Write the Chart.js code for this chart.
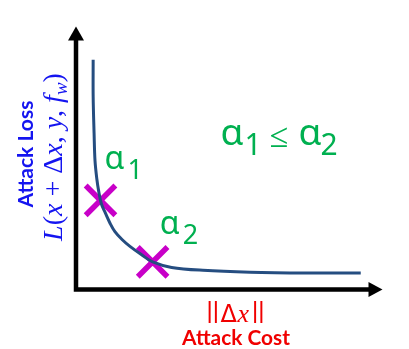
<!DOCTYPE html>
<html>
<head>
<meta charset="utf-8">
<script src="https://cdn.jsdelivr.net/npm/chart.js@4/dist/chart.umd.min.js"></script>
<style>
  html, body { margin: 0; padding: 0; background: #ffffff; }
  #wrap { width: 409px; height: 349px; }
</style>
</head>
<body>
<div id="wrap"><canvas id="c" width="409" height="349"></canvas></div>
<script>
// Trade-off curve: attack cost (x) vs attack loss (y)
const curveCost = [0.56, 0.56, 0.59, 0.62, 0.68, 0.74, 0.83, 0.96, 1.11, 1.27, 1.51, 1.76, 2.13, 2.50, 3.12, 4.14, 5.68, 7.53, 9.29];
const curveLoss = [8.74, 7.34, 5.94, 4.90, 4.20, 3.74, 3.25, 2.90, 2.52, 2.20, 1.89, 1.64, 1.33, 1.05, 0.84, 0.73, 0.66, 0.63, 0.63];

// Operating points for the two weights
const markerCost = [0.80, 2.50];
const markerLoss = [3.39, 1.05];
const markerNames = ['α', 'α'];
const markerSubs = ['1', '2'];

const GREEN = '#00b050';
const BLUE = '#1414f0';
const RED = '#f00000';
const SANS = '"Noto Sans"';

// draws a letter with a subscript; subX is the subscript's offset from the letter
function drawSub(ctx, x, y, main, sub, mainPx, subPx, subX, subDrop) {
  ctx.textAlign = 'left';
  ctx.textBaseline = 'alphabetic';
  ctx.font = mainPx + 'px ' + SANS;
  ctx.fillText(main, x, y);
  ctx.font = subPx + 'px ' + SANS;
  ctx.fillText(sub, x + subX, y + subDrop);
}

// bold title sized to a given width
function fitBold(ctx, text, width) {
  ctx.font = 'bold 20px Lato';
  const size = 20 * width / ctx.measureText(text).width;
  ctx.font = 'bold ' + size.toFixed(2) + 'px Lato';
}

const axesPlugin = {
  id: 'arrowAxes',
  beforeDatasetsDraw(chart) {
    const { ctx, chartArea: a } = chart;
    ctx.save();
    ctx.strokeStyle = '#000';
    ctx.fillStyle = '#000';
    ctx.lineWidth = 4.5;
    ctx.lineCap = 'butt';
    ctx.beginPath();
    ctx.moveTo(a.left, a.bottom + 2.2);
    ctx.lineTo(a.left, a.top + 12);
    ctx.moveTo(a.left - 2.2, a.bottom);
    ctx.lineTo(a.right - 12, a.bottom);
    ctx.stroke();
    // arrow heads
    ctx.beginPath();
    ctx.moveTo(a.left, a.top);
    ctx.lineTo(a.left - 8, a.top + 14);
    ctx.lineTo(a.left + 8, a.top + 14);
    ctx.closePath();
    ctx.fill();
    ctx.beginPath();
    ctx.moveTo(a.right, a.bottom);
    ctx.lineTo(a.right - 14, a.bottom - 7.5);
    ctx.lineTo(a.right - 14, a.bottom + 7.5);
    ctx.closePath();
    ctx.fill();
    ctx.restore();
  }
};

const labelPlugin = {
  id: 'labels',
  afterDatasetsDraw(chart) {
    const { ctx } = chart;
    ctx.save();
    ctx.fillStyle = GREEN;
    // alpha labels next to markers
    const meta = chart.getDatasetMeta(1);
    const offs = [[4, -31], [7, -28]];
    meta.data.forEach((pt, i) => {
      drawSub(ctx, pt.x + offs[i][0], pt.y + offs[i][1], markerNames[i], markerSubs[i], 32, 27, 23, 10);
    });

    // relation between weights
    drawSub(ctx, 220.5, 145, 'α', '1', 37, 30, 24, 10);
    ctx.font = '34px ' + SANS;
    ctx.textAlign = 'center';
    ctx.fillText('≤', 279, 147);
    drawSub(ctx, 298.5, 145, 'α', '2', 37, 30, 22, 10);

    // x-axis title
    ctx.fillStyle = RED;
    ctx.textAlign = 'left';
    ctx.font = '24px "Liberation Sans"';
    ctx.fillText('||', 206.5, 318);
    ctx.fillText('||', 252, 318);
    ctx.font = '24px "DejaVu Sans"';
    ctx.fillText('Δ', 220.5, 322);
    ctx.font = 'italic 26px "Liberation Serif"';
    ctx.fillText('x', 237.5, 322);
    ctx.textAlign = 'center';
    fitBold(ctx, 'Attack Cost', 108);
    ctx.fillText('Attack Cost', 236, 345);

    // y-axis title (rotated)
    ctx.translate(33, 154);
    ctx.rotate(-Math.PI / 2);
    ctx.fillStyle = BLUE;
    fitBold(ctx, 'Attack Loss', 107);
    ctx.textAlign = 'center';
    ctx.fillText('Attack Loss', 0, 0);
    ctx.restore();

    ctx.save();
    ctx.translate(62, 157);
    ctx.rotate(-Math.PI / 2);
    ctx.fillStyle = BLUE;
    const it = 'italic 28px "Liberation Serif"', up = '28px "Liberation Serif"';
    const parts = [
      [it, 'L', 0], [up, '(', 0], [it, 'x', 0], [up, ' + Δ', 0], [it, 'x', 0],
      [up, ', ', 0], [it, 'y', 0], [up, ', ', 0], [it, 'f', 0],
      ['italic 19px "Liberation Serif"', 'w', 5], [up, ')', 0]
    ];
    let total = 0;
    parts.forEach(p => { ctx.font = p[0]; total += ctx.measureText(p[1]).width; });
    let px = -total / 2;
    ctx.textAlign = 'left';
    parts.forEach(p => {
      ctx.font = p[0];
      ctx.fillText(p[1], px, p[2]);
      px += ctx.measureText(p[1]).width;
    });
    ctx.restore();
  }
};

new Chart(document.getElementById('c'), {
  type: 'scatter',
  data: {
    datasets: [
      {
        data: curveCost.map((c, i) => ({ x: c, y: curveLoss[i] })),
        showLine: true,
        borderColor: '#254d80',
        borderWidth: 3,
        pointRadius: 0,
        tension: 0.35,
        clip: false
      },
      {
        data: markerCost.map((c, i) => ({ x: c, y: markerLoss[i] })),
        showLine: false,
        pointStyle: 'crossRot',
        pointRadius: 21,
        pointBorderWidth: 5.5,
        pointBorderColor: '#c800c8',
        pointBackgroundColor: '#c800c8',
        clip: false
      }
    ]
  },
  options: {
    responsive: false,
    animation: false,
    events: [],
    layout: { padding: { left: 76, top: 4, right: 9, bottom: 59.5 } },
    plugins: { legend: { display: false }, tooltip: { enabled: false } },
    scales: {
      x: { type: 'linear', min: 0, max: 10, display: false },
      y: { type: 'linear', min: 0, max: 10, display: false }
    }
  },
  plugins: [axesPlugin, labelPlugin]
});
</script>
</body>
</html>
